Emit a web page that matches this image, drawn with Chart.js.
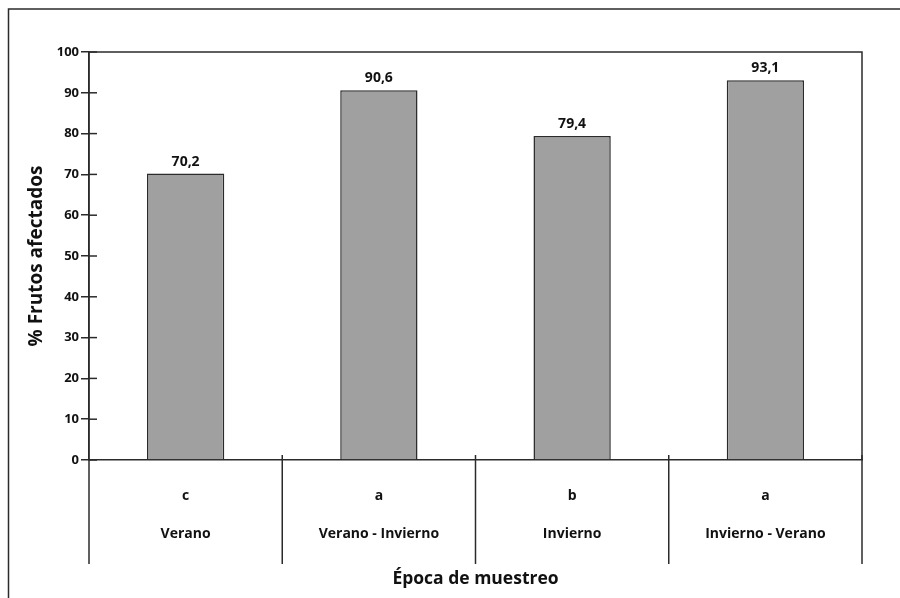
<!DOCTYPE html>
<html>
<head>
<meta charset="utf-8">
<script src="https://cdn.jsdelivr.net/npm/chart.js@4.4.0/dist/chart.umd.min.js"></script>
<style>
  body { margin: 0; background: #fff; }
  #wrap { width: 900px; height: 598px; }
</style>
</head>
<body>
<div id="wrap"><canvas id="myChart" width="900" height="598"></canvas></div>
<script>
// Data
const letters = ['c', 'a', 'b', 'a'];
const seasons = ['Verano', 'Verano - Invierno', 'Invierno', 'Invierno - Verano'];
const affected = [70.2, 90.6, 79.4, 93.1];
const yTicks = [0, 10, 20, 30, 40, 50, 60, 70, 80, 90, 100];

const FONT = '"Open Sans", sans-serif';
const INK = '#2b2b2b';

// x tick labels: letter on top, empty line, season name below
const labels = seasons.map((s, i) => [letters[i], '', s]);

// Draws the frame, plot border, inner tick halves, separators and value labels
const decorations = {
  id: 'decorations',
  afterDraw(chart) {
    const ctx = chart.ctx;
    const a = chart.chartArea;
    const y = chart.scales.y;
    ctx.save();
    ctx.strokeStyle = INK;
    ctx.lineWidth = 1.5;

    // outer frame (runs off the right and bottom edges)
    ctx.strokeRect(8.5, 9, 900, 600);

    // plot border top + right
    ctx.beginPath();
    ctx.moveTo(a.left, a.top);
    ctx.lineTo(a.right, a.top);
    ctx.lineTo(a.right, a.bottom);
    ctx.stroke();

    // inner half of the y ticks
    yTicks.forEach((v) => {
      const py = y.getPixelForValue(v);
      ctx.beginPath();
      ctx.moveTo(a.left, py);
      ctx.lineTo(a.left + 8, py);
      ctx.stroke();
    });

    // category separators below the baseline
    const n = seasons.length;
    const w = (a.right - a.left) / n;
    for (let i = 0; i <= n; i++) {
      const px = a.left + i * w;
      ctx.beginPath();
      ctx.moveTo(px, i === 0 ? a.top : a.bottom - 5);
      ctx.lineTo(px, 564);
      ctx.stroke();
    }

    // value labels above bars
    ctx.fillStyle = '#111';
    ctx.font = 'bold 14px ' + FONT;
    ctx.textAlign = 'center';
    ctx.textBaseline = 'bottom';
    chart.getDatasetMeta(0).data.forEach((bar, i) => {
      ctx.fillText(affected[i].toFixed(1).replace('.', ','), bar.x, bar.y - 5);
    });
    ctx.restore();
  }
};

const myChart = new Chart(document.getElementById('myChart'), {
  type: 'bar',
  data: {
    labels: labels,
    datasets: [
      {
        data: affected,
        backgroundColor: '#a0a0a0',
        borderColor: INK,
        borderWidth: 1.5,
        categoryPercentage: 1,
        barPercentage: 0.4,
      },
    ],
  },
  options: {
    responsive: false,
    animation: false,
    layout: { padding: { top: 52, right: 38, left: 0, bottom: 0 } },
    plugins: { legend: { display: false }, tooltip: { enabled: false } },
    scales: {
      x: {
        grid: { display: false },
        border: { display: true, color: INK, width: 1.5 },
        ticks: {
          color: '#111',
          font: { family: FONT, size: 14, weight: 'bold', lineHeight: 1.36 },
          padding: 18,
          maxRotation: 0,
          autoSkip: false,
        },
        title: {
          display: true,
          text: 'Época de muestreo',
          color: '#111',
          font: { family: FONT, size: 17.5, weight: 'bold' },
          padding: { top: 0, bottom: 8 },
        },
        afterFit(scale) { scale.height = 138; },
      },
      y: {
        min: 0,
        max: 100,
        afterBuildTicks(scale) { scale.ticks = yTicks.map((v) => ({ value: v })); },
        grid: { drawOnChartArea: false, tickLength: 8, color: INK, lineWidth: 1.5 },
        border: { display: true, color: INK, width: 1.5 },
        ticks: {
          color: '#111',
          font: { family: FONT, size: 13, weight: 'bold' },
          padding: 2,
        },
        title: {
          display: true,
          text: '% Frutos afectados',
          color: '#111',
          font: { family: FONT, size: 19, weight: 'bold' },
          padding: { top: 25, bottom: 0 },
        },
        afterFit(scale) { scale.width = 89; },
      },
    },
  },
  plugins: [decorations],
});
</script>
</body>
</html>
